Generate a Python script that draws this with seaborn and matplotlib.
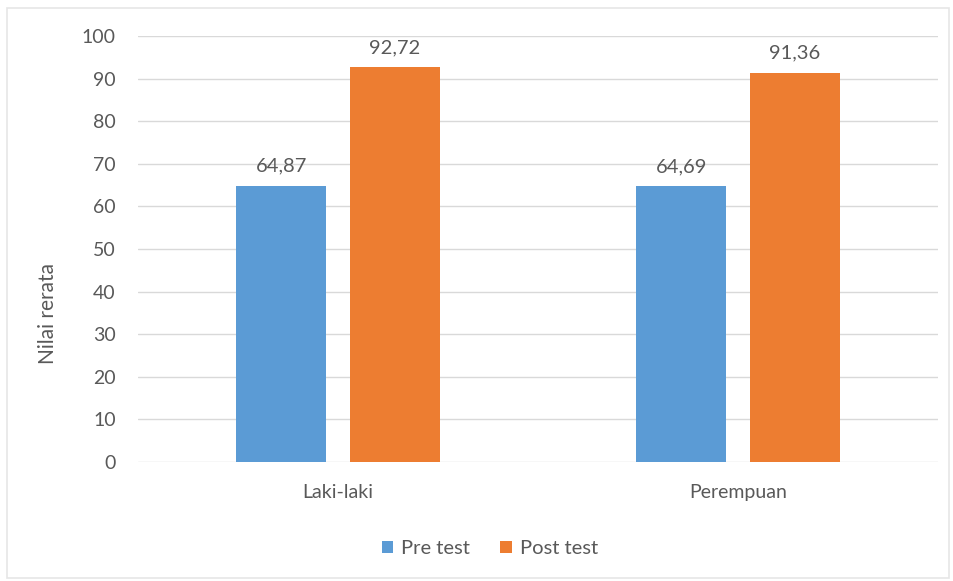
import matplotlib
matplotlib.use("Agg")
import matplotlib.pyplot as plt
import seaborn as sns
import pandas as pd
from matplotlib.patches import Rectangle

# Data
categories = ["Laki-laki", "Perempuan"]
series = ["Pre test", "Post test"]
pre_test = [64.87, 64.69]
post_test = [92.72, 91.36]
value_labels = {"Pre test": ["64,87", "64,69"], "Post test": ["92,72", "91,36"]}
y_ticks = [0, 10, 20, 30, 40, 50, 60, 70, 80, 90, 100]

df = pd.DataFrame({
    "Kategori": categories * 2,
    "Tes": [series[0]] * 2 + [series[1]] * 2,
    "Nilai": pre_test + post_test,
})

sns.set_theme(style="white")
plt.rcParams["font.family"] = ["Lato", "DejaVu Sans"]

text_color = "#595959"
grid_color = "#D9D9D9"
palette = {"Pre test": "#5B9BD5", "Post test": "#ED7D31"}

fig = plt.figure(figsize=(9.54, 5.81), dpi=100)
ax = fig.add_axes([138 / 954, 1 - 462 / 581, 800 / 954, 426 / 581])

sns.barplot(data=df, x="Kategori", y="Nilai", hue="Tes", order=categories,
            hue_order=series, palette=palette, width=0.568, gap=0.208,
            saturation=1, ax=ax, legend=True, linewidth=0)

ax.set_ylim(0, 100)
ax.set_xlim(-0.5, 1.5)
ax.set_yticks(y_ticks)
ax.set_yticklabels([str(t) for t in y_ticks])
ax.yaxis.grid(True, color=grid_color, linewidth=1)
ax.set_axisbelow(True)
for s in ax.spines.values():
    s.set_visible(False)
ax.tick_params(axis="both", length=0, colors=text_color, labelsize=14)
ax.tick_params(axis="y", pad=16)
ax.tick_params(axis="x", pad=16)
ax.set_xlabel("")
ax.set_ylabel("Nilai rerata", color=text_color, fontsize=15)
ax.yaxis.set_label_coords(-0.1, 0.348)

# Value labels above bars
for container, name in zip(ax.containers, series):
    ax.bar_label(container, labels=value_labels[name], padding=8,
                 color=text_color, fontsize=14.5)

leg = ax.legend(loc="upper center", bbox_to_anchor=(0.44, -0.14), ncol=2,
                frameon=False, fontsize=14.5, labelcolor=text_color,
                handlelength=0.55, handleheight=0.55, handletextpad=0.4,
                columnspacing=1.5)

# Light chart frame
fig.patches.append(Rectangle((7 / 954, 3 / 581), 942 / 954, 570 / 581,
                             transform=fig.transFigure, fill=False,
                             edgecolor="#E6E6E6", linewidth=1.2))

fig.savefig("out.png", dpi=100, facecolor="white")
